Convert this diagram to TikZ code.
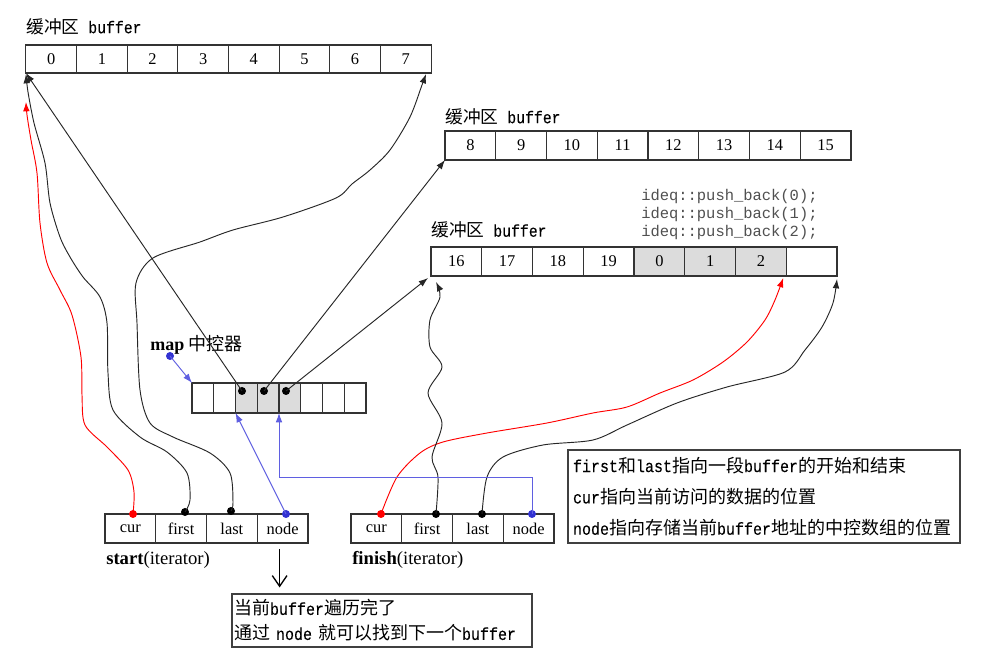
\documentclass[tikz,border=0pt]{standalone}
\usepackage{fontspec}
\setmainfont{Liberation Serif}
\newfontfamily\cjk{Noto Sans CJK SC}
\newfontfamily\monof[Scale=0.96,FakeStretch=0.868,FakeBold=0.2]{Liberation Mono}
\newfontfamily\codef{Liberation Mono}
\usetikzlibrary{arrows.meta,calc}
\newcommand\zh[1]{{\cjk #1}}
\newcommand\mo[1]{{\monof #1}}
\definecolor{cellgray}{RGB}{220,220,220}
\definecolor{dotblue}{RGB}{50,50,210}
\definecolor{lineblue}{RGB}{95,95,225}
\definecolor{codegray}{RGB}{80,80,80}
\begin{document}
\begin{tikzpicture}[x=0.75pt,y=-0.75pt,
  cellbox/.style={draw=black!80, line width=0.8pt, inner sep=0pt, outer sep=0pt, font=\fontsize{12.3}{14}\selectfont},
  bufcell/.style={cellbox, minimum width=38.06pt, minimum height=21.75pt},
  mapcell/.style={cellbox, minimum width=16.31pt, minimum height=22.5pt},
  itcell/.style={cellbox, minimum width=38.06pt, minimum height=21.75pt},
  dot/.style={circle, fill, inner sep=0pt, minimum size=6pt},
  buflabel/.style={anchor=west, inner sep=0pt, font=\fontsize{13.3}{15}\selectfont},
  conn/.style={line width=0.7pt, draw=black!85, -{Latex[length=7pt,width=5pt]}},
  rconn/.style={line width=0.7pt, draw=red, -{Latex[length=7pt,width=5pt]}},
  bconn/.style={line width=0.7pt, draw=lineblue, -{Latex[length=7pt,width=5pt]}},
  textbox/.style={draw=black!75, line width=0.8pt, align=left, font=\fontsize{13.5}{23.5}\selectfont}
]
\path[fill=white] (0,0) rectangle (1001,666);
\useasboundingbox (0,0) rectangle (1001,666);

% buffer labels
\node[buflabel] (lab1) at (26,26.5) {\zh{缓冲区}\mo{\ buffer}};
\node[buflabel] (lab2) at (445,116.5) {\zh{缓冲区}\mo{\ buffer}};
\node[buflabel] (lab3) at (431,230) {\zh{缓冲区}\mo{\ buffer}};
\node[anchor=west, inner sep=0pt, align=left, text=codegray, font=\codef\fontsize{11.6}{13.5}\selectfont] (code) at (641,215) {ideq::push\_back(0);\\ideq::push\_back(1);\\ideq::push\_back(2);};

% buffers
\foreach \t [count=\i from 0] in {0,1,2,3,4,5,6,7}
  \node[bufcell, minimum height=21pt] (b1c\i) at ({26+(\i+0.5)*50.625},59) {\t};
\foreach \t [count=\i from 0] in {8,9,10,11,12,13,14,15}
  \node[bufcell] (b2c\i) at ({445+(\i+0.5)*50.75},145.5) {\t};
\foreach \t/\f [count=\i from 0] in {16/white,17/white,18/white,19/white,0/cellgray,1/cellgray,2/cellgray,{}/white}
  \node[bufcell, fill=\f] (b3c\i) at ({431+(\i+0.5)*50.75},261.5) {\t};

% map
\node[anchor=west, inner sep=0pt, font=\fontsize{13.5}{15}\selectfont] (maplab) at (150,345) {\textbf{map} \zh{中控器}};
\foreach \f [count=\i from 0] in {white,white,cellgray,cellgray,cellgray,white,white,white}
  \node[mapcell, fill=\f] (m\i) at ({192+(\i+0.5)*21.75},398) {};

% iterators
\foreach \t [count=\i from 0] in {cur,first,last,node}
  \node[itcell] (sc\i) at ({105+(\i+0.5)*50.75},528.5) {\t};
\foreach \t [count=\i from 0] in {cur,first,last,node}
  \node[itcell] (fc\i) at ({351+(\i+0.5)*50.75},528.5) {\t};
\node[anchor=west, inner sep=0pt, font=\fontsize{14}{16}\selectfont] (startlab) at (106,560) {\textbf{start}(iterator)};
\node[anchor=west, inner sep=0pt, font=\fontsize{14}{16}\selectfont] (finishlab) at (352,560) {\textbf{finish}(iterator)};

% text boxes
\node[textbox, minimum width=294pt, minimum height=69.75pt, text width=286.5pt, inner xsep=3.75pt] (info) at (764,496.5)
  {\mo{first}\zh{和}\mo{last}\zh{指向一段}\mo{buffer}\zh{的开始和结束}\\
   \mo{cur}\zh{指向当前访问的数据的位置}\\
   \mo{node}\zh{指向存储当前}\mo{buffer}\zh{地址的中控数组的位置}};
\node[textbox, font=\fontsize{13.5}{18.75}\selectfont, minimum width=225pt, minimum height=39.75pt, text width=222pt, inner xsep=1.5pt] (note) at (382,620.5)
  {\zh{当前}\mo{buffer}\zh{遍历完了}\\
   \zh{通过}\mo{\ node\ }\zh{就可以找到下一个}\mo{buffer}};

% dots
\node[dot, red] (scur) at (133,514) {};
\node[dot] (sfirst) at (185,512) {};
\node[dot] (slast) at (231,511) {};
\node[dot, dotblue] (snode) at (286,514) {};
\node[dot, red] (fcur) at (381,514) {};
\node[dot] (ffirst) at (436,514) {};
\node[dot] (flast) at (482,514) {};
\node[dot, dotblue] (fnode) at (532,514) {};
\node[dot] (md1) at (242,391) {};
\node[dot] (md2) at (264,391) {};
\node[dot] (md3) at (286,391) {};
\node[dot, dotblue] (mapdot) at (170,356) {};

\coordinate (redtip) at (26,102);
\coordinate (fbend) at (532,477);

% map pointers
\draw[conn] (md1.center) -- (b1c0.south west);
\draw[conn] (md2.center) -- (b2c0.south west);
\draw[conn] (md3.center) -- ($(b3c0.south west)+(-3,2)$);

% start iterator
\draw[rconn] plot[smooth] coordinates {(scur.center) (134,492) (128,470) (107,447) (85,425) (82,395) (81,357) (72,315) (60,290) (47,263) (40,223) (37,173) (31,140) (27,115) (redtip)};
\draw[conn] plot[smooth] coordinates {(sfirst.center) (190,500) (187,473) (167,452) (140,437) (113,410) (108,373) (107,323) (100,297) (83,277) (70,257) (60,237) (50,203) (45,163) (34,123) (28,92) ($(b1c0.south west)+(0,1)$)};
\draw[conn] plot[smooth] coordinates {(slast.center) (233,503) (230,473) (210,453) (173,437) (150,423) (140,390) (137,323) (136,283) (153,258) (200,242) (233,230) (283,217) (336,198) (352,184) (370,170) (390,150) (410,117) (422,85) ($(b1c7.south east)+(-5,1)$)};
\draw[bconn] (snode.center) -- (m2.south west);

% finish iterator
\draw[rconn] plot[smooth] coordinates {(fcur.center) (397,477) (420,453) (443,442) (487,433) (547,423) (593,413) (627,407) (660,393) (693,380) (723,362) (747,342) (765,320) (775,300) ($(b3c6.south east)+(-3,2)$)};
\draw[conn] plot[smooth] coordinates {(ffirst.center) (438,477) (432,457) (442,423) (428,393) (442,367) (430,347) (430,320) (440,297) ($(b3c0.south west)+(5,6)$)};
\draw[conn] plot[smooth] coordinates {(flast.center) (487,477) (503,457) (543,445) (593,440) (627,425) (677,403) (727,387) (785,372) (805,350) (822,327) (833,303) ($(b3c7.south east)+(0,3)$)};
\draw[bconn] (fnode.center) -- (fbend) -| (m4.south west);

% map label pointer
\draw[bconn] (mapdot.center) -- (m0.north west);

% down arrow to note
\draw[line width=1pt, -{Straight Barb[length=8pt,width=11pt]}] ($(sc3.south)+(-3,6)$) -- ($(sc3.south |- note.north)+(-3,-6)$);
\end{tikzpicture}
\end{document}
